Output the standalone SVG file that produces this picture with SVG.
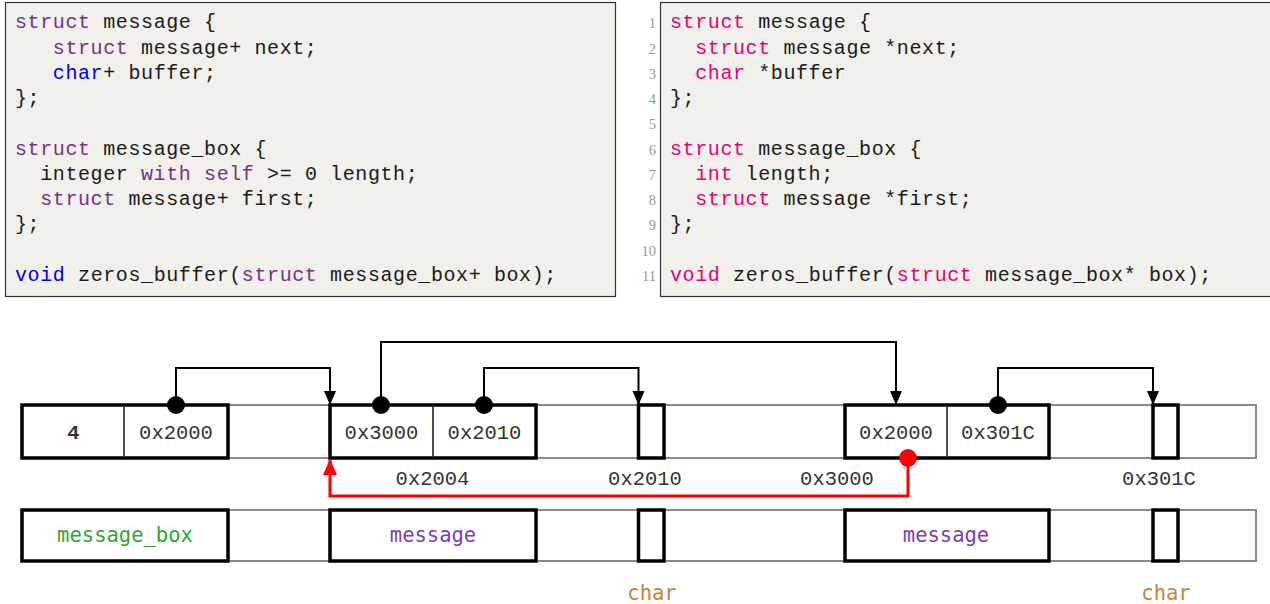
<svg xmlns="http://www.w3.org/2000/svg" width="1270" height="604" viewBox="0 0 1270 604">
<style>
.panel{fill:#f1f0ea;stroke:#333;stroke-width:1.2}
.code{font-family:"Liberation Mono",monospace;font-size:20px;letter-spacing:0.6px;fill:#1a1a1a}
.kp{fill:#74308f}
.kb{fill:#0000f0}
.km{fill:#e4007c}
.ln{font-family:"Liberation Serif",serif;font-size:14.5px;fill:#999;text-anchor:end}
.strip{fill:none;stroke:#8a8a8a;stroke-width:2}
.box{fill:#fff;stroke:#000;stroke-width:3.5}
.div{stroke:#222;stroke-width:1.6}
.val{font-family:"Liberation Mono",monospace;font-size:20.5px;fill:#333;text-anchor:middle}
.lbl{font-family:"DejaVu Sans Mono",monospace;font-size:20.5px;text-anchor:middle}
.conn{fill:none;stroke:#000;stroke-width:2}
.red{fill:none;stroke:#ff0000;stroke-width:3}
</style>
<defs>
<marker id="ah" markerUnits="userSpaceOnUse" markerWidth="15" markerHeight="15" viewBox="0 0 15 15" refX="14" refY="7.5" orient="auto">
<path d="M0,1.5 L14,7.5 L0,13.5 Z" fill="#000"/>
</marker>
<marker id="ahr" markerUnits="userSpaceOnUse" markerWidth="17" markerHeight="17" viewBox="0 0 17 17" refX="16" refY="8.5" orient="auto">
<path d="M0,1.5 L16,8.5 L0,15.5 Z" fill="#ff0000"/>
</marker>
</defs>

<g id="code-left">
<rect class="panel" x="5.5" y="2.5" width="610" height="294"/>
<text class="code" x="15" y="28.3"><tspan class="kp">struct</tspan> message {</text>
<text class="code" x="52.8" y="53.6"><tspan class="kp">struct</tspan> message+ next;</text>
<text class="code" x="52.8" y="78.8"><tspan class="kb">char</tspan>+ buffer;</text>
<text class="code" x="15" y="104.1">};</text>
<text class="code" x="15" y="154.6"><tspan class="kp">struct</tspan> message_box {</text>
<text class="code" x="40.2" y="179.9">integer <tspan class="kp">with</tspan> <tspan class="kp">self</tspan> &gt;= 0 length;</text>
<text class="code" x="40.2" y="205.2"><tspan class="kp">struct</tspan> message+ first;</text>
<text class="code" x="15" y="230.4">};</text>
<text class="code" x="15" y="281"><tspan class="kb">void</tspan> zeros_buffer(<tspan class="kp">struct</tspan> message_box+ box);</text>
</g>

<g id="code-right">
<rect class="panel" x="660.5" y="2.5" width="620" height="294"/>
<text class="ln" x="656" y="28.3">1</text>
<text class="ln" x="656" y="53.6">2</text>
<text class="ln" x="656" y="78.8">3</text>
<text class="ln" x="656" y="104.1">4</text>
<text class="ln" x="656" y="129.4">5</text>
<text class="ln" x="656" y="154.6">6</text>
<text class="ln" x="656" y="179.9">7</text>
<text class="ln" x="656" y="205.2">8</text>
<text class="ln" x="656" y="230.4">9</text>
<text class="ln" x="656" y="255.7">10</text>
<text class="ln" x="656" y="281">11</text>
<text class="code" x="670" y="28.3"><tspan class="km">struct</tspan> message {</text>
<text class="code" x="695.2" y="53.6"><tspan class="km">struct</tspan> message *next;</text>
<text class="code" x="695.2" y="78.8"><tspan class="km">char</tspan> *buffer</text>
<text class="code" x="670" y="104.1">};</text>
<text class="code" x="670" y="154.6"><tspan class="km">struct</tspan> message_box {</text>
<text class="code" x="695.2" y="179.9"><tspan class="km">int</tspan> length;</text>
<text class="code" x="695.2" y="205.2"><tspan class="km">struct</tspan> message *first;</text>
<text class="code" x="670" y="230.4">};</text>
<text class="code" x="670" y="281"><tspan class="km">void</tspan> zeros_buffer(<tspan class="km">struct</tspan> message_box* box);</text>
</g>

<g id="memory-row">
<rect class="strip" x="22" y="405" width="1234" height="53"/>
</g>
<g id="node-message-box">
<rect class="box" x="22" y="405" width="206" height="53"/>
<line class="div" x1="124" y1="405" x2="124" y2="458"/>
<text class="val" x="73.5" y="439" font-weight="bold" fill="#111">4</text>
<text class="val" x="176" y="439">0x2000</text>
</g>
<g id="node-message-1">
<rect class="box" x="330" y="405" width="206" height="53"/>
<line class="div" x1="433" y1="405" x2="433" y2="458"/>
<text class="val" x="381.5" y="439">0x3000</text>
<text class="val" x="484.5" y="439">0x2010</text>
</g>
<g id="node-char-1">
<rect class="box" x="638.5" y="405" width="25.5" height="53"/>
</g>
<g id="node-message-2">
<rect class="box" x="845" y="405" width="204" height="53"/>
<line class="div" x1="947" y1="405" x2="947" y2="458"/>
<text class="val" x="896" y="439">0x2000</text>
<text class="val" x="998" y="439">0x301C</text>
</g>
<g id="node-char-2">
<rect class="box" x="1153" y="405" width="25" height="53"/>
</g>

<g id="addresses">
<text class="val" x="432.5" y="485">0x2004</text>
<text class="val" x="645" y="485">0x2010</text>
<text class="val" x="837" y="485">0x3000</text>
<text class="val" x="1159" y="485">0x301C</text>
</g>

<g id="connectors">
<path class="conn" d="M176 405 V368 H330 V405" marker-end="url(#ah)"/>
<path class="conn" d="M381 405 V342 H896 V405" marker-end="url(#ah)"/>
<path class="conn" d="M484 405 V368 H638.5 V405" marker-end="url(#ah)"/>
<path class="conn" d="M998 405 V368 H1153 V405" marker-end="url(#ah)"/>
<path class="red" d="M908 458 V496 H330 V459" marker-end="url(#ahr)"/>
<circle cx="176" cy="405" r="9" fill="#000"/>
<circle cx="381" cy="405" r="9" fill="#000"/>
<circle cx="484" cy="405" r="9" fill="#000"/>
<circle cx="998" cy="405" r="9" fill="#000"/>
<circle cx="908" cy="458" r="9" fill="#ff0000"/>
</g>

<g id="type-row">
<rect class="strip" x="22" y="510" width="1234" height="51"/>
</g>
<g id="type-message-box">
<rect class="box" x="22" y="510" width="206" height="51"/>
<text class="lbl" x="125" y="542" fill="#33a532">message_box</text>
</g>
<g id="type-message-1">
<rect class="box" x="330" y="510" width="206" height="51"/>
<text class="lbl" x="433" y="542" fill="#7a3db8">message</text>
</g>
<g id="type-char-1">
<rect class="box" x="638.5" y="510" width="25.5" height="51"/>
<text class="lbl" x="652" y="600" fill="#d08030">char</text>
</g>
<g id="type-message-2">
<rect class="box" x="845" y="510" width="204" height="51"/>
<text class="lbl" x="946" y="542" fill="#7a3db8">message</text>
</g>
<g id="type-char-2">
<rect class="box" x="1153" y="510" width="25" height="51"/>
<text class="lbl" x="1166" y="600" fill="#d08030">char</text>
</g>
</svg>
